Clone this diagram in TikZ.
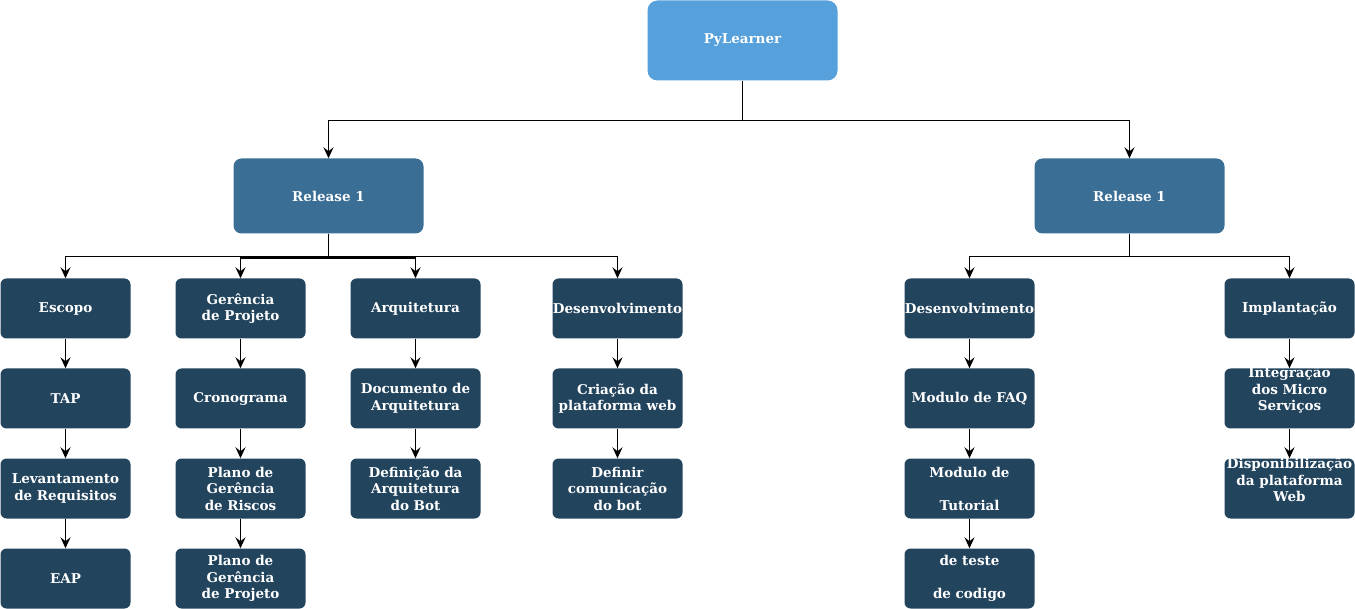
\documentclass[tikz,border=0pt]{standalone}
\usepackage{fontspec}
\setmainfont{DejaVu Serif}
\usetikzlibrary{arrows.meta}
\definecolor{rootc}{HTML}{56A0DB}
\definecolor{relc}{HTML}{3A6E94}
\definecolor{leafc}{HTML}{23445D}
\begin{document}
\begin{tikzpicture}[x=1pt,y=-1pt,
  lbl/.style={text=white, font=\bfseries\fontsize{13.5}{16.5}\selectfont, align=center, inner sep=0pt},
  leaf/.style={lbl, rounded corners=6pt, minimum width=130pt, minimum height=60pt, fill=leafc},
  rel/.style={lbl, rounded corners=8pt, minimum width=190pt, minimum height=75pt, fill=relc},
  top/.style={lbl, rounded corners=10pt, minimum width=190pt, minimum height=80pt, fill=rootc},
  conn/.style={draw=black, line width=1.6pt, -{Stealth[length=11pt,width=10pt,inset=4pt]}}
]
\useasboundingbox (0,0) rectangle (1355,609);
\node[top] (root) at (742.5,40.5) {PyLearner};
\node[rel] (r1) at (328.5,196) {Release 1};
\node[rel] (r2) at (1129.5,196) {Release 1};
\def\ya{308.5}\def\yb{398.5}\def\yc{488.5}\def\yd{578.5}
\node[leaf] (esc) at (65.5,\ya) {Escopo};
\node[leaf] (tap) at (65.5,\yb) {TAP};
\node[leaf] (lev) at (65.5,\yc) {Levantamento\\de Requisitos};
\node[leaf] (eap) at (65.5,\yd) {EAP};
\node[leaf] (ger) at (240.5,\ya) {Gerência\\de Projeto};
\node[leaf] (cro) at (240.5,\yb) {Cronograma};
\node[leaf] (pgr) at (240.5,\yc) {Plano de\\Gerência\\de Riscos};
\node[leaf] (pgp) at (240.5,\yd) {Plano de\\Gerência\\de Projeto};
\node[leaf] (arq) at (415.5,\ya) {Arquitetura};
\node[leaf] (doc) at (415.5,\yb) {Documento de\\Arquitetura};
\node[leaf] (def) at (415.5,\yc) {Definição da\\Arquitetura\\do Bot};
\node[leaf] (des) at (617.5,\ya) {Desenvolvimento};
\node[leaf] (cri) at (617.5,\yb) {Criação da\\plataforma web};
\node[leaf] (com) at (617.5,\yc) {Definir\\comunicação\\do bot};
\node[leaf] (des2) at (969.5,\ya) {Desenvolvimento};
\node[leaf] (faq) at (969.5,\yb) {Modulo de FAQ};
\node[leaf] (tut) at (969.5,\yc) {Modulo de\\[16.5pt]Tutorial};
\node[leaf] (tst) at (969.5,\yd) {de teste\\[16.5pt]de codigo};
\node[leaf] (imp) at (1289.5,\ya) {Implantação};
\node[leaf] (int) at (1289.5,\yb) {};
\node[lbl] (intT) at ([yshift=8.3pt]int.center) {Integração\\dos Micro\\Serviços};
\node[leaf] (dis) at (1289.5,\yc) {};
\node[lbl] (disT) at ([yshift=8.3pt]dis.center) {Disponibilização\\da plataforma\\Web};
\draw[conn] (root.south) -- ++(0,40) -| (r1.north);
\draw[conn] (root.south) -- ++(0,40) -| (r2.north);
\draw[conn] (r1.south) -- ++(0,23) -| (esc.north);
\draw[conn] (r1.south) -- ++(0,24.5) -| (ger.north);
\draw[conn] (r1.south) -- ++(0,24.5) -| (arq.north);
\draw[conn] (r1.south) -- ++(0,23) -| (des.north);
\draw[conn] (r2.south) -- ++(0,23) -| (des2.north);
\draw[conn] (r2.south) -- ++(0,23) -| (imp.north);
\foreach \a/\b in {esc/tap, tap/lev, lev/eap, ger/cro, cro/pgr, pgr/pgp, arq/doc, doc/def, des/cri, cri/com, des2/faq, faq/tut, tut/tst, imp/int, int/dis}
  \draw[conn] (\a.south) -- (\b.north);
\end{tikzpicture}
\end{document}
